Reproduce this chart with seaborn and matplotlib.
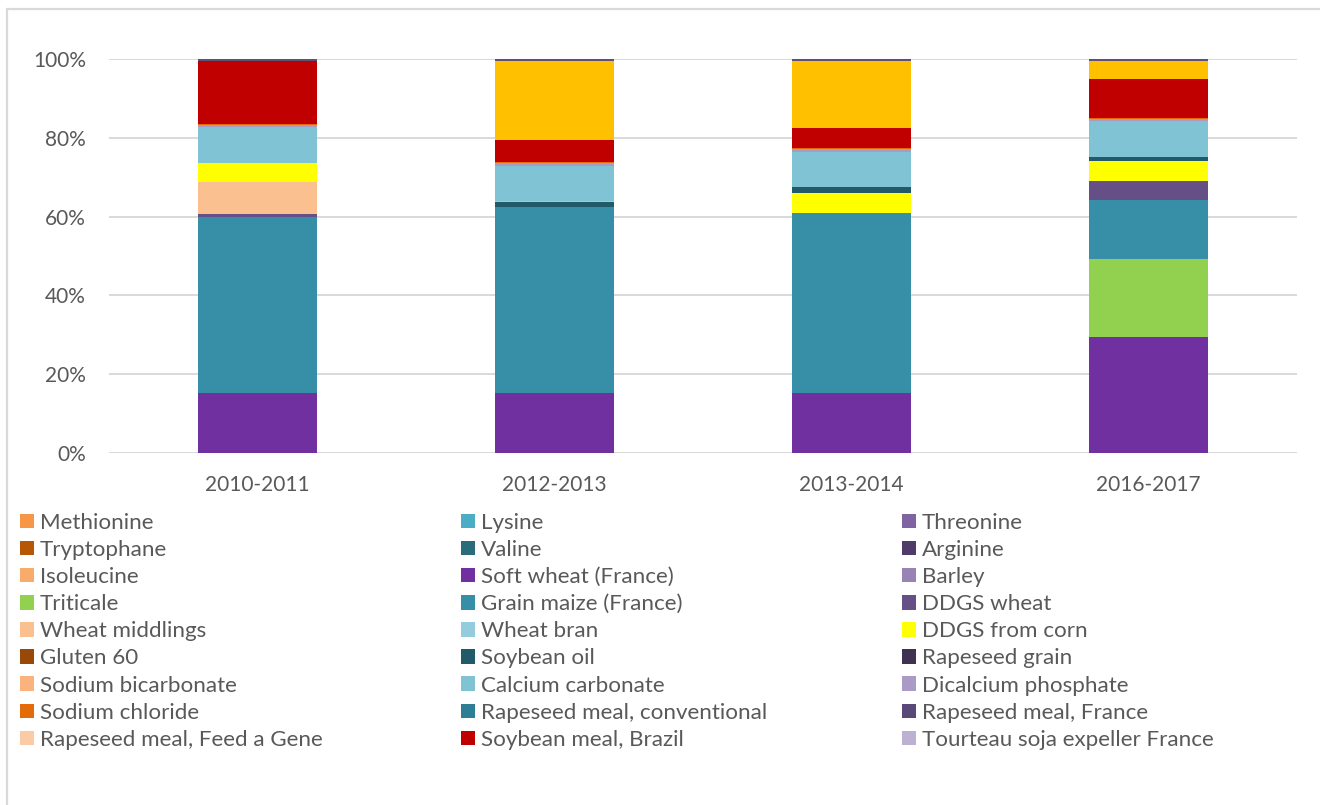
import matplotlib
matplotlib.use("Agg")
import matplotlib.pyplot as plt
from matplotlib.patches import Patch, Rectangle
from matplotlib.ticker import PercentFormatter
import pandas as pd
import seaborn as sns

periods = ["2010-2011", "2012-2013", "2013-2014", "2016-2017"]

ingredients = [
    "Methionine", "Lysine", "Threonine", "Tryptophane", "Valine", "Arginine",
    "Isoleucine", "Soft wheat (France)", "Barley", "Triticale",
    "Grain maize (France)", "DDGS wheat", "Wheat middlings", "Wheat bran",
    "DDGS from corn", "Gluten 60", "Soybean oil", "Rapeseed grain",
    "Sodium bicarbonate", "Calcium carbonate", "Dicalcium phosphate",
    "Sodium chloride", "Rapeseed meal, conventional", "Rapeseed meal, France",
    "Rapeseed meal, Feed a Gene", "Soybean meal, Brazil",
    "Tourteau soja expeller France", "Soybean meal, other", "Premix",
]

colors = [
    "#F79646", "#4BACC6", "#8064A2", "#B65708", "#2A6B7C", "#4E3B6A",
    "#F9AB6B", "#7030A0", "#9983B5", "#92D050",
    "#368EA7", "#664F86", "#FAC090", "#93CDDD",
    "#FFFF00", "#984807", "#215A69", "#3F3151",
    "#FAB37E", "#80C3D5", "#A99BC6",
    "#E36C09", "#2E7E95", "#5A4878",
    "#FBCBA5", "#C00000",
    "#BDB1D3", "#FFC000", "#605078",
]

# shares (%) of each ingredient, same order as `ingredients`
share_2010_2011 = [0, 0, 0, 0, 0, 0, 0, 15.2, 0, 0, 44.5, 0.9, 7.9, 0,
                   5.0, 0, 0, 0, 0, 9.1, 0.4, 0.3, 0, 0, 0, 15.9, 0, 0, 0.5]
share_2012_2013 = [0, 0, 0, 0, 0, 0, 0, 15.3, 0, 0, 47.1, 0, 0, 0,
                   0, 0, 1.4, 0, 0.2, 9.0, 0.7, 0.2, 0, 0, 0, 5.7, 0, 20.0, 0.5]
share_2013_2014 = [0, 0, 0, 0, 0, 0, 0, 15.3, 0, 0, 45.9, 0, 0, 0,
                   5.1, 0, 1.35, 0, 0, 9.05, 0.7, 0.2, 0, 0, 0, 5.2, 0, 17.0, 0.5]
share_2016_2017 = [0, 0, 0, 0, 0, 0, 0, 29.4, 0, 20.0, 15.0, 4.9, 0, 0,
                   5.1, 0, 0.85, 0, 0, 9.1, 0.6, 0.2, 0, 0, 0, 10.0, 0, 4.6, 0.5]

legend_count = 27  # entries shown in the legend

shares = [share_2010_2011, share_2012_2013, share_2013_2014, share_2016_2017]
rows = []
for period, vals in zip(periods, shares):
    for ing, v in zip(ingredients, vals):
        rows.append({"period": period, "ingredient": ing, "share": v})
df = pd.DataFrame(rows)
df["period"] = pd.Categorical(df["period"], categories=periods, ordered=True)

sns.set_theme(style="white")
plt.rcParams["font.family"] = ["Lato", "DejaVu Sans"]
text_color = "#595959"
grid_color = "#D9D9D9"

W, H = 1320, 805
fig = plt.figure(figsize=(W / 100, H / 100), dpi=100)
fig.patch.set_facecolor("white")

# chart frame
fig.patches.append(Rectangle((7 / W, -0.2), 1.5, 1.2 - 9.5 / H,
                             transform=fig.transFigure, fill=False,
                             edgecolor=grid_color, linewidth=1.6))

ax = fig.add_axes([109 / W, 1 - 453 / H, (1297 - 109) / W, (453 - 59) / H])

palette = dict(zip(ingredients, colors))
sns.histplot(data=df, x="period", hue="ingredient", weights="share",
             multiple="fill", discrete=True, shrink=0.4,
             hue_order=ingredients[::-1], palette=palette,
             alpha=1, linewidth=0, edgecolor="none", legend=False, ax=ax)

ax.set_xlim(-0.5, 3.5)
ax.set_ylim(0, 1)
ax.set_yticks([0, 0.2, 0.4, 0.6, 0.8, 1.0])
ax.yaxis.set_major_formatter(PercentFormatter(1.0, decimals=0))
ax.set_xticks(range(len(periods)))
ax.set_xticklabels(periods)
ax.set_xlabel("")
ax.set_ylabel("")
ax.grid(axis="y", color=grid_color, linewidth=1.4)
ax.grid(axis="x", visible=False)
ax.set_axisbelow(True)
for s in ax.spines.values():
    s.set_visible(False)
ax.tick_params(axis="y", length=0, pad=16.5, labelsize=15, labelcolor=text_color)
ax.tick_params(axis="x", length=0, pad=16, labelsize=15, labelcolor=text_color)

# legend: three columns filled row by row
handles = [Patch(facecolor=c, edgecolor="none") for c in colors[:legend_count]]
labels = ingredients[:legend_count]
col_x = [20, 461, 902]
mid_y = 522.5 + 4 * 27.2
for c in range(3):
    idx = list(range(c, legend_count, 3))
    fig.legend([handles[i] for i in idx], [labels[i] for i in idx],
               loc="center left", bbox_to_anchor=(col_x[c] / W, 1 - mid_y / H),
               frameon=False, fontsize=16.1, labelcolor=text_color,
               handlelength=0.62, handleheight=0.62, handletextpad=0.28,
               labelspacing=0.32, borderpad=0, borderaxespad=0)

fig.savefig("out.png", dpi=100, facecolor="white")
